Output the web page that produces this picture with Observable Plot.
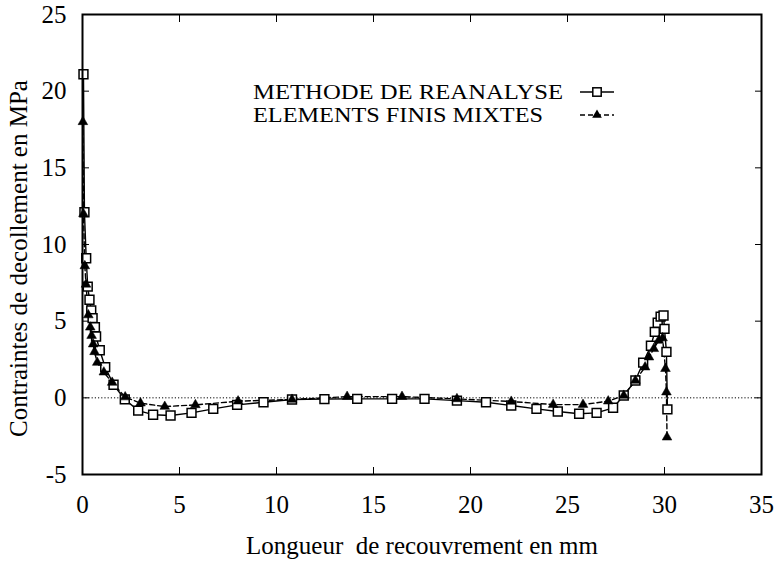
<!DOCTYPE html>
<html><head><meta charset="utf-8">
<script src="https://cdn.jsdelivr.net/npm/d3@7"></script>
<script src="https://cdn.jsdelivr.net/npm/@observablehq/plot@0.6"></script>
<style>body{margin:0;background:#fff}</style>
</head><body><div id="chart"></div>
<script>
const reanalyseX = [0.05, 0.1, 0.19, 0.27, 0.36, 0.45, 0.52, 0.64, 0.7, 0.89, 1.17, 1.6, 2.18, 2.87, 3.64, 4.54, 5.62, 6.74, 7.97, 9.33, 10.8, 12.47, 14.16, 15.96, 17.63, 19.3, 20.8, 22.1, 23.4, 24.5, 25.6, 26.5, 27.35, 27.9, 28.5, 28.9, 29.3, 29.5, 29.65, 29.8, 29.95, 30.0, 30.1, 30.15];
const reanalyseY = [21.1, 12.1, 9.1, 7.25, 6.4, 5.7, 5.2, 4.6, 4.0, 3.1, 2.0, 0.85, -0.1, -0.83, -1.1, -1.15, -0.98, -0.72, -0.46, -0.29, -0.11, -0.08, -0.07, -0.07, -0.07, -0.18, -0.29, -0.5, -0.72, -0.89, -1.04, -0.98, -0.65, 0.15, 1.13, 2.3, 3.4, 4.3, 4.9, 5.3, 5.37, 4.5, 3.0, -0.75];
const mixteX = [0.02, 0.05, 0.12, 0.18, 0.3, 0.4, 0.47, 0.55, 0.62, 0.76, 1.1, 1.53, 2.2, 2.99, 4.24, 5.82, 8.02, 10.8, 13.64, 16.47, 19.3, 22.1, 24.26, 25.8, 27.1, 27.9, 28.5, 29.0, 29.2, 29.45, 29.7, 29.9, 30.05, 30.1, 30.13];
const mixteY = [18.0, 12.0, 8.6, 7.4, 5.4, 4.6, 4.06, 3.5, 3.0, 2.3, 1.67, 1.0, 0.05, -0.35, -0.57, -0.46, -0.22, -0.11, 0.08, 0.08, -0.07, -0.24, -0.44, -0.44, -0.22, 0.15, 1.13, 2.0, 2.65, 3.2, 3.74, 3.9, 1.9, 0.37, -2.57];
const xTicks = [0, 5, 10, 15, 20, 25, 30, 35];
const yTicks = [-5, 0, 5, 10, 15, 20, 25];
const seriesNames = ["METHODE DE REANALYSE", "ELEMENTS FINIS MIXTES"];
const xLabel = "Longueur  de recouvrement en mm";
const yLabel = "Contraintes de decollement en MPa";

const rea = reanalyseX.map((x, i) => ({x, y: reanalyseY[i]}));
const mix = mixteX.map((x, i) => ({x, y: mixteY[i]}));
const blank = () => "";
const FS = 25;

const chart = Plot.plot({
  width: 778, height: 563,
  marginLeft: 82, marginRight: 17, marginTop: 14, marginBottom: 89,
  style: {fontFamily: "'Liberation Serif', 'Times New Roman', serif", fontSize: FS + "px", color: "#000", background: "#fff"},
  x: {domain: [0, 35]},
  y: {domain: [-5, 25]},
  marks: [
    Plot.ruleY([0], {stroke: "#000", strokeWidth: 1, strokeDasharray: "1.2,2"}),
    Plot.axisX(xTicks, {anchor: "bottom", tickSize: 0, tickPadding: 21, tickFormat: d => String(d), label: null, fontSize: FS}),
    Plot.axisX(xTicks, {anchor: "bottom", tickSize: -7, tickFormat: blank, label: null}),
    Plot.axisX(xTicks, {anchor: "top", tickSize: -7, tickFormat: blank, label: null}),
    Plot.axisY(yTicks, {anchor: "left", tickSize: 0, tickPadding: 16, tickFormat: d => String(d), label: null, fontSize: FS}),
    Plot.axisY(yTicks, {anchor: "left", tickSize: -7, tickFormat: blank, label: null}),
    Plot.axisY(yTicks, {anchor: "right", tickSize: -7, tickFormat: blank, label: null}),
    Plot.line(mix, {x: "x", y: "y", stroke: "#000", strokeWidth: 1.4, strokeDasharray: "5,3"}),
    Plot.line(rea, {x: "x", y: "y", stroke: "#000", strokeWidth: 1.4}),
    Plot.dot(rea, {x: "x", y: "y", symbol: "square", r: 5, stroke: "#000", fill: "#fff", strokeWidth: 1.5}),
    Plot.dot(mix, {x: "x", y: "y", symbol: "triangle", r: 3.6, fill: "#000", stroke: "#000", strokeWidth: 0.5}),
    Plot.frame({stroke: "#000", strokeWidth: 2}),
    Plot.text([xLabel], {frameAnchor: "bottom", dy: 79, fontSize: FS, fill: "#000"}),
    Plot.text([yLabel], {frameAnchor: "left", textAnchor: "middle", rotate: -90, dx: -64, dy: 14, fontSize: FS, fill: "#000"})
  ]
});
document.getElementById("chart").appendChild(chart);

// legend (gnuplot style: left-justified text, samples aligned)
const svg = d3.select(chart);
const lg = svg.append("g").attr("font-family", "'Liberation Serif', 'Times New Roman', serif").attr("font-size", 22).attr("text-anchor", "start");
const rows = [
  {name: seriesNames[0], y: 92, w: 310, dash: null, sym: "square"},
  {name: seriesNames[1], y: 115, w: 290, dash: "5,3", sym: "triangle"}
];
rows.forEach(r => {
  lg.append("text").attr("x", 253).attr("y", r.y).attr("dy", "0.34em").attr("text-anchor", "start")
    .attr("textLength", r.w).attr("lengthAdjust", "spacingAndGlyphs").text(r.name);
  lg.append("line").attr("x1", 580).attr("x2", 614).attr("y1", r.y).attr("y2", r.y)
    .attr("stroke", "#000").attr("stroke-width", 1.4).attr("stroke-dasharray", r.dash);
  if (r.sym === "square") {
    lg.append("rect").attr("x", 597 - 4.2).attr("y", r.y - 4.2).attr("width", 8.4).attr("height", 8.4)
      .attr("fill", "#fff").attr("stroke", "#000").attr("stroke-width", 1.5);
  } else {
    lg.append("path").attr("d", d3.symbol(d3.symbolTriangle, 40)()).attr("transform", `translate(597,${r.y})`).attr("fill", "#000");
  }
});
</script></body></html>
